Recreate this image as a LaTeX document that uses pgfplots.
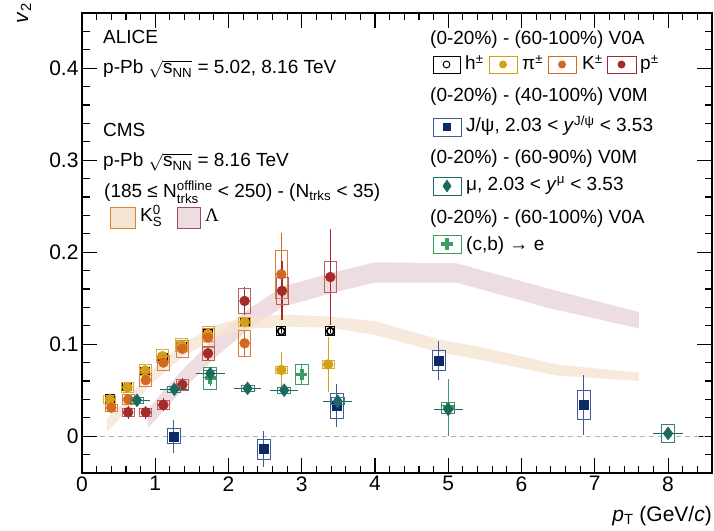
\documentclass[border=0pt]{standalone}
\usepackage{amsmath}
\usepackage{fontspec}
\setmainfont{Liberation Sans}
\newfontfamily\seriffont{Liberation Serif}
\usepackage{pgfplots}
\usepgfplotslibrary{fillbetween}
\pgfplotsset{compat=1.18}
\usepackage{pgfplotstable}

\definecolor{cpi}{HTML}{D4A017}
\definecolor{cK}{HTML}{D2691E}
\definecolor{cp}{HTML}{A52A2A}
\definecolor{cjpsi}{HTML}{0B2A66}
\definecolor{cjpsibox}{HTML}{3F5C99}
\definecolor{cmu}{HTML}{1A6A60}
\definecolor{ce}{HTML}{3A9E62}
\definecolor{cKs}{HTML}{F5E4D2}
\definecolor{cKsline}{HTML}{D9833A}
\definecolor{cLam}{HTML}{EDDCE0}
\definecolor{cLamline}{HTML}{A84A58}

% ALICE h+-
\pgfplotstableread{
x y stat sys
0.38 0.041 0.001 0.004
0.62 0.054 0.001 0.004
0.86 0.071 0.001 0.004
1.10 0.086 0.001 0.004
1.36 0.098 0.001 0.004
1.72 0.112 0.001 0.004
2.22 0.124 0.002 0.004
2.72 0.114 0.002 0.005
3.39 0.114 0.002 0.005
}\hdata
% pi+-
\pgfplotstableread{
x y stat sys
0.38 0.040 0.002 0.004
0.62 0.053 0.002 0.005
0.86 0.0715 0.002 0.006
1.10 0.087 0.003 0.007
1.36 0.099 0.003 0.007
1.72 0.111 0.004 0.008
2.22 0.124 0.005 0.005
2.72 0.072 0.019 0.004
3.36 0.078 0.030 0.004
}\pidata
% K+-
\pgfplotstableread{
x y stat sys
0.40 0.031 0.002 0.004
0.63 0.040 0.003 0.005
0.87 0.061 0.003 0.007
1.11 0.080 0.004 0.008
1.37 0.095 0.005 0.009
1.72 0.107 0.006 0.010
2.22 0.101 0.014 0.014
2.72 0.176 0.045 0.026
}\Kdata
% p+-
\pgfplotstableread{
x y stat sys
0.63 0.026 0.007 0.004
0.87 0.026 0.007 0.004
1.11 0.034 0.007 0.005
1.37 0.056 0.007 0.006
1.72 0.090 0.008 0.008
2.22 0.147 0.015 0.014
2.73 0.158 0.032 0.015
3.39 0.173 0.052 0.017
}\pdata
% J/psi
\pgfplotstableread{
x y stat sys
1.25 0.000 0.018 0.008
2.48 -0.014 0.020 0.011
3.48 0.033 0.0235 0.0135
4.87 0.082 0.021 0.011
6.85 0.034 0.033 0.016
}\jpsidata
% mu
\pgfplotstableread{
x y xerr stat sys
0.75 0.039 0.18 0.004 0.003
1.26 0.051 0.20 0.004 0.003
1.75 0.068 0.20 0.005 0.004
2.26 0.052 0.19 0.003 0.003
2.76 0.050 0.19 0.004 0.003
3.49 0.038 0.20 0.004 0.004
5.00 0.029 0.20 0.004 0.004
8.00 0.003 0.20 0.006 0.010
}\mudata
% (c,b) -> e
\pgfplotstableread{
x y stat sys
1.75 0.063 0.008 0.012
3.00 0.067 0.010 0.011
5.00 0.031 0.031 0.006
}\edata
% CMS K0S band
\pgfplotstableread{
x lo hi
0.34 0.005 0.019
0.63 0.028 0.042
0.93 0.056 0.070
1.38 0.087 0.101
1.84 0.107 0.121
2.29 0.117 0.131
2.84 0.119 0.132
3.39 0.118 0.130
4.00 0.110 0.125
4.89 0.091 0.105
5.50 0.082 0.096
6.48 0.066 0.078
7.60 0.060 0.069
}\ksband
% CMS Lambda band
\pgfplotstableread{
x lo hi
0.90 0.009 0.029
1.11 0.027 0.049
1.38 0.051 0.073
1.84 0.087 0.109
2.29 0.117 0.139
2.75 0.141 0.163
3.48 0.157 0.179
4.00 0.167 0.189
5.11 0.167 0.188
6.34 0.140 0.161
7.60 0.117 0.135
}\lamband

\pgfdeclareplotmark{sysbox}{%
  \pgfmathsetmacro\sysh{\sysv*920}%
  \pgfpathrectanglecorners{\pgfpoint{-\bhw pt}{-\sysh pt}}{\pgfpoint{\bhw pt}{\sysh pt}}%
  \pgfusepathqstroke}

\pgfplotsset{
  sysplot/.style 2 args={only marks, mark=sysbox, line width=0.9pt, color=#1,
    visualization depends on={\thisrow{sys}\as\sysv},
    visualization depends on={#2\as\bhw}, forget plot},
  statplot/.style 2 args={only marks, color=#1, mark=#2, forget plot,
    error bars/y dir=both, error bars/y explicit, error bars/error mark=none,
    error bars/error bar style={line width=1.1pt, color=#1}},
}

\begin{document}
\begin{tikzpicture}
\begin{axis}[name=ax, scale only axis, width=630pt, height=460pt,
  xmin=0, xmax=8.6, ymin=-0.04, ymax=0.46,
  xtick={0,1,...,8}, ytick={0,0.1,0.2,0.3,0.4},
  minor xtick={0,0.2,...,8.6}, minor ytick={-0.04,-0.02,...,0.46},
  tick align=inside, major tick length=15pt, minor tick length=7.5pt,
  axis line style={line width=1.1pt},
  every tick/.style={line width=1.1pt, black},
  ticklabel style={font=\fontsize{21}{25}\selectfont},
  /pgf/number format/assume math mode=true,
  yticklabel style={/pgf/number format/fixed, /pgf/number format/precision=1},
  clip=false,
]
% bands
\addplot[name path=lamlo, draw=none, forget plot] table[x=x,y=lo]{\lamband};
\addplot[name path=lamhi, draw=none, forget plot] table[x=x,y=hi]{\lamband};
\addplot[fill=cLam, draw=none, forget plot] fill between[of=lamlo and lamhi];
\addplot[name path=kslo, draw=none, forget plot] table[x=x,y=lo]{\ksband};
\addplot[name path=kshi, draw=none, forget plot] table[x=x,y=hi]{\ksband};
\addplot[fill=cKs, draw=none, fill opacity=0.8, forget plot] fill between[of=kslo and kshi];
% zero line
\addplot[gray!60, line width=0.9pt, dash pattern=on 5pt off 4pt, forget plot] coordinates {(0.25,0) (8.5,0)};
% h
\addplot[sysplot={black}{4.5}] table[x=x,y=y]{\hdata};
\addplot[statplot={black}{o}, mark size=3.6pt, mark options={line width=1.8pt, fill=white}] table[x=x,y=y,y error=stat]{\hdata};
% pi
\addplot[sysplot={cpi!85}{6}] table[x=x,y=y]{\pidata};
\addplot[statplot={cpi}{*}, mark size=5pt] table[x=x,y=y,y error=stat]{\pidata};
% K
\addplot[sysplot={cK!85}{6}] table[x=x,y=y]{\Kdata};
\addplot[statplot={cK}{*}, mark size=5pt] table[x=x,y=y,y error=stat]{\Kdata};
% p
\addplot[sysplot={cp!75}{6}] table[x=x,y=y]{\pdata};
\addplot[statplot={cp}{*}, mark size=5pt] table[x=x,y=y,y error=stat]{\pdata};
% e
\addplot[sysplot={ce}{6.5}] table[x=x,y=y]{\edata};
\addplot[statplot={ce}{+}, mark size=5.5pt, mark options={line width=3.8pt}] table[x=x,y=y,y error=stat]{\edata};
% J/psi
\addplot[sysplot={cjpsibox}{6.5}] table[x=x,y=y]{\jpsidata};
\addplot[statplot={cjpsibox}{square*}, mark size=4.5pt, mark options={fill=cjpsi, draw=cjpsi}] table[x=x,y=y,y error=stat]{\jpsidata};
% mu
\addplot[sysplot={cmu!85}{6.5}] table[x=x,y=y]{\mudata};
\addplot[only marks, color=cmu, mark=diamond*, mark size=6.5pt, forget plot,
  error bars/.cd, y dir=both, y explicit, x dir=both, x explicit, error mark=none,
  error bar style={line width=1.1pt, color=cmu}]
  table[x=x,y=y,x error=xerr,y error=stat]{\mudata};
\end{axis}

\begin{scope}[shift={(ax.south west)}, x=1pt, y=1pt, every node/.style={inner sep=0pt, anchor=base west, font=\fontsize{19}{23}\selectfont}]
% axis titles
\node[anchor=base east, font=\fontsize{21}{25}\selectfont] at (630,-48.7) {\textit{p}$_{\text{T}}$ (GeV/\textit{c})};
\node[anchor=base east, rotate=90, font=\fontsize{21}{25}\selectfont] at (-54,470) {\textit{v}$_{\text{2}}$};
% left block
\node at (21,429) {ALICE};
\node at (21,399) {p-Pb $\sqrt{\text{s}_{\text{NN}}}$ = 5.02, 8.16 TeV};
\node at (21,336) {CMS};
\node at (21,306) {p-Pb $\sqrt{\text{s}_{\text{NN}}}$ = 8.16 TeV};
\node at (22,276) {(185 ≤ N$^{\text{offline}}_{\text{trks}}$ < 250) - (N$_{\text{trks}}$ < 35)};
\draw[fill=cKs, draw=cKsline, line width=1pt] (28,245) rectangle (53,266);
\node at (58,252) {K$^{\text{0}}_{\text{S}}$};
\draw[fill=cLam, draw=cLamline, line width=1pt] (95,245) rectangle (118,266);
\node at (123,252) {{\seriffont Λ}};
% right block
\node at (348,428) {(0-20\%) - (60-100\%) V0A};
\draw[black, line width=0.9pt] (351,400) rectangle (378,417);
\draw[black, line width=1pt] (364.5,408.5) circle (3.4);
\node at (383,403.7) {h\textsuperscript{±}};
\draw[cpi, line width=0.9pt] (407,400) rectangle (435,417);
\fill[cpi] (421,408.5) circle (4);
\node at (440,403.7) {π\textsuperscript{±}};
\draw[cK, line width=0.9pt] (466,400) rectangle (494,417);
\fill[cK] (480,408.5) circle (4);
\node at (500,403.7) {K\textsuperscript{±}};
\draw[cp, line width=0.9pt] (525,400) rectangle (554,417);
\fill[cp] (539.5,408.5) circle (4);
\node at (558,403.7) {p\textsuperscript{±}};
\node at (348,371.3) {(0-20\%) - (40-100\%) V0M};
\draw[cjpsibox, line width=0.9pt] (351,336.5) rectangle (379,354.5);
\fill[cjpsi] (361,341.5) rectangle (369,349.5);
\node at (384,341.3) {J/ψ, 2.03 < \textit{y}$^{\text{J/ψ}}$ < 3.53};
\node at (348,309.7) {(0-20\%) - (60-90\%) V0M};
\draw[cmu, line width=0.9pt] (351,278) rectangle (379,296);
\fill[cmu] (365,293.5) -- (369.5,287) -- (365,280.5) -- (360.5,287) -- cycle;
\node at (384,283) {μ, 2.03 < \textit{y}$^{\text{μ}}$ < 3.53};
\node at (348,249.7) {(0-20\%) - (60-100\%) V0A};
\draw[ce, line width=0.9pt] (351,220) rectangle (379,238);
\fill[ce] (359,227.2) rectangle (371,230.8);
\fill[ce] (363.2,223) rectangle (366.8,235);
\node at (384,223) {(c,b) → e};
\end{scope}

\pgfresetboundingbox
\path[use as bounding box] ([shift={(-82pt,-57pt)}]ax.south west) rectangle ([shift={(2pt,13pt)}]ax.north east);
\end{tikzpicture}
\end{document}
